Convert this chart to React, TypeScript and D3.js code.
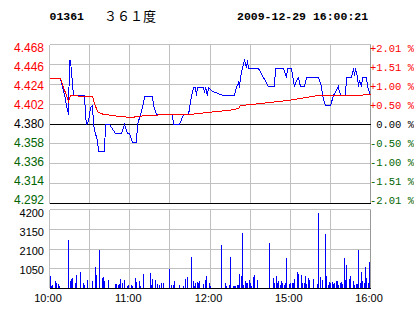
import React from "react";
import * as d3 from "d3";

const W = 414;
const H = 314;

const stockCode = "01361";
const stockName = "３６１度";
const stamp = "2009-12-29 16:00:21";

const priceTicks = [4.468, 4.446, 4.424, 4.402, 4.38, 4.358, 4.336, 4.314, 4.292];
const pctLabels = ["+2.01 %", "+1.51 %", "+1.00 %", "+0.50 %", "0.00 %", "-0.50 %", "-1.00 %", "-1.51 %", "-2.01 %"];
const volTicks = [4200, 3150, 2100, 1050];
const timeLabels = ["10:00", "11:00", "12:00", "15:00", "16:00"];
const timeLabelMinutes = [0, 60, 120, 180, 240];
const gridMinutes = [0, 30, 60, 90, 120, 150, 180, 210, 240];
const prevClose = 4.38;

const priceMinutes = [0, 8, 10, 12, 13, 14, 15, 16, 18, 26, 27, 28, 29, 31, 32, 33, 34, 36, 37, 41, 42, 45, 49, 54, 56, 58, 60, 62, 65, 66, 68, 70, 71, 77, 78, 80, 92, 93, 97, 100, 104, 106, 108, 109, 110, 111, 115, 116, 117, 118, 119, 122, 130, 138, 140, 141, 142, 143, 144, 146, 147, 148, 149, 156, 164, 168, 169, 175, 177, 178, 181, 183, 184, 186, 187, 188, 191, 192, 201, 203, 204, 206, 210, 212, 216, 217, 218, 221, 222, 226, 227, 228, 229, 230, 231, 232, 233, 234, 237, 238, 240];
const priceValues = [4.43, 4.43, 4.421, 4.407, 4.4, 4.391, 4.45, 4.45, 4.412, 4.412, 4.39, 4.38, 4.383, 4.398, 4.401, 4.381, 4.373, 4.362, 4.35, 4.35, 4.38, 4.38, 4.37, 4.37, 4.38, 4.37, 4.37, 4.36, 4.36, 4.38, 4.39, 4.403, 4.41, 4.41, 4.401, 4.391, 4.391, 4.38, 4.38, 4.391, 4.391, 4.41, 4.42, 4.42, 4.412, 4.42, 4.42, 4.415, 4.42, 4.412, 4.42, 4.416, 4.411, 4.411, 4.42, 4.426, 4.42, 4.431, 4.442, 4.45, 4.442, 4.45, 4.441, 4.441, 4.421, 4.421, 4.441, 4.441, 4.431, 4.441, 4.441, 4.421, 4.426, 4.431, 4.426, 4.421, 4.421, 4.431, 4.431, 4.421, 4.411, 4.401, 4.401, 4.411, 4.421, 4.415, 4.411, 4.411, 4.431, 4.431, 4.441, 4.434, 4.441, 4.433, 4.421, 4.428, 4.421, 4.431, 4.431, 4.421, 4.411];

const avgMinutes = [0, 8, 14, 15, 16, 26, 32, 34, 36, 38, 41, 47, 52, 61, 66, 73, 90, 105, 118, 125, 134, 141, 143, 151, 158, 171, 178, 188, 201, 226, 231, 238, 240];
const avgValues = [4.43, 4.43, 4.405, 4.408, 4.411, 4.41, 4.41, 4.403, 4.394, 4.392, 4.39, 4.389, 4.388, 4.387, 4.388, 4.389, 4.39, 4.391, 4.393, 4.394, 4.395, 4.397, 4.401, 4.402, 4.403, 4.405, 4.406, 4.408, 4.411, 4.411, 4.412, 4.413, 4.413];

const volMinutes = [0, 1, 2, 4, 5, 6, 7, 14, 15, 16, 17, 19, 20, 23, 25, 26, 28, 32, 34, 35, 37, 39, 40, 41, 44, 49, 50, 51, 52, 53, 54, 56, 58, 59, 61, 62, 64, 65, 67, 68, 70, 75, 76, 77, 79, 80, 82, 83, 85, 89, 91, 92, 93, 97, 100, 101, 103, 106, 107, 108, 109, 110, 111, 112, 115, 116, 117, 119, 120, 128, 131, 132, 134, 135, 137, 138, 139, 140, 141, 142, 143, 144, 145, 146, 147, 148, 149, 150, 151, 152, 153, 155, 164, 167, 168, 169, 170, 171, 172, 173, 174, 175, 176, 177, 179, 180, 181, 182, 183, 185, 186, 188, 189, 190, 191, 192, 193, 194, 197, 200, 201, 202, 204, 206, 207, 208, 209, 210, 211, 212, 213, 214, 215, 216, 217, 218, 219, 220, 221, 222, 224, 225, 227, 228, 229, 230, 231, 232, 233, 234, 235, 236, 237, 238, 239, 240];
const volValues = [650, 140, 210, 390, 300, 245, 125, 2600, 390, 490, 545, 300, 705, 860, 280, 175, 440, 390, 1125, 705, 2025, 545, 600, 390, 440, 230, 230, 195, 230, 490, 280, 440, 125, 175, 175, 125, 545, 335, 390, 125, 755, 810, 175, 490, 440, 230, 175, 280, 280, 1020, 175, 175, 390, 175, 125, 490, 600, 1700, 390, 125, 280, 335, 280, 390, 230, 440, 650, 280, 125, 2290, 280, 125, 175, 1700, 125, 125, 125, 175, 175, 755, 650, 2975, 175, 390, 280, 280, 440, 280, 125, 600, 705, 440, 2395, 545, 280, 650, 280, 390, 175, 390, 280, 175, 280, 1600, 230, 280, 280, 280, 490, 860, 755, 705, 280, 280, 650, 230, 545, 440, 490, 230, 4030, 600, 440, 2920, 650, 175, 335, 280, 335, 230, 280, 390, 390, 175, 280, 335, 230, 1600, 440, 1230, 490, 650, 390, 175, 230, 230, 2025, 280, 860, 390, 280, 1125, 545, 280, 1390, 175];

const RED = "#ff0000";
const GREEN = "#006400";
const GRID = "#c0c0c0";
const BLUE = "#0000ff";
const SANS = "'Liberation Sans', Arial, sans-serif";
const MONO = "'Liberation Mono', 'DejaVu Sans Mono', monospace";

const L = 49.5, R = 370.5;
const PT = 44.5, PB = 203.5;
const VT = 209.5, VB = 288.5;

const snap = (v: number) => Math.round(v - 0.5) + 0.5;

export default function App() {
  const x = d3.scaleLinear().domain([0, 240]).range([L, R]);
  const yP = d3.scaleLinear().domain([priceTicks[8], priceTicks[0]]).range([PB, PT]);
  const yV = d3.scaleLinear().domain([0, volTicks[0]]).range([VB, VT]);
  const yPL = d3.scaleLinear().domain([priceTicks[0], priceTicks[8]]).range([48, 200]);
  const yVL = d3.scaleLinear().domain([volTicks[0], 0]).range([213, 289]);

  const line = d3.line<[number, number]>().x((d) => snap(x(d[0]))).y((d) => snap(yP(d[1])));
  const pricePts = priceMinutes.map((m, i) => [m, priceValues[i]] as [number, number]);
  const avgPts = avgMinutes.map((m, i) => [m, avgValues[i]] as [number, number]);

  const colorFor = (v: number) => (Math.abs(v - prevClose) < 1e-9 ? "#000" : v > prevClose ? RED : GREEN);

  return (
    <svg width={W} height={H} style={{ position: "absolute", left: 0, top: 0, background: "#fff" }}>
      <rect x={0} y={0} width={W} height={H} fill="#fff" />
      {/* header */}
      <text x={49.5} y={20} fontFamily={MONO} fontWeight="bold" fontSize={11.5} fill="#000">{stockCode}</text>
      <text x={104} y={21} fontFamily="'Noto Sans CJK SC', sans-serif" fontSize={13} fill="#000">{stockName}</text>
      <text x={237} y={20} fontFamily={MONO} fontWeight="bold" fontSize={11.5} fill="#000">{stamp}</text>

      {/* price grid */}
      <g shapeRendering="crispEdges">
        {priceTicks.map((t, i) => (
          <line key={"pg" + i} x1={L} x2={R} y1={snap(yP(t))} y2={snap(yP(t))}
            stroke={i === 4 || i === 8 ? "#000" : GRID} strokeWidth={1} />
        ))}
        {gridMinutes.map((m, i) => (
          <line key={"pv" + i} x1={snap(x(m))} x2={snap(x(m))} y1={PT} y2={PB}
            stroke={i === gridMinutes.length - 1 ? "#999" : GRID} strokeWidth={1} />
        ))}
        {/* volume grid */}
        {[...volTicks, 0].map((t, i) => (
          <line key={"vg" + i} x1={L} x2={R} y1={snap(yV(t))} y2={snap(yV(t))}
            stroke={t === 0 ? "#000" : GRID} strokeWidth={1} />
        ))}
        {gridMinutes.map((m, i) => (
          <line key={"vv" + i} x1={snap(x(m))} x2={snap(x(m))} y1={VT} y2={VB - 1}
            stroke={i === gridMinutes.length - 1 ? "#999" : GRID} strokeWidth={1} />
        ))}
        <line x1={L} x2={R} y1={snap(yP(prevClose))} y2={snap(yP(prevClose))} stroke="#000" />
        <line x1={L} x2={R} y1={PB} y2={PB} stroke="#000" />
        <line x1={L} x2={R} y1={VB} y2={VB} stroke="#000" />
      </g>

      {/* volume bars */}
      <g shapeRendering="crispEdges">
        {volMinutes.map((m, i) => {
          const bx = Math.min(Math.round(x(m)), 369);
          const top = yV(volValues[i]);
          return <rect key={"b" + i} x={bx} y={top} width={1} height={VB - 0.5 - top} fill={BLUE} />;
        })}
      </g>

      {/* price lines */}
      <path d={line(pricePts) || ""} fill="none" stroke={BLUE} strokeWidth={1} shapeRendering="crispEdges" />
      <path d={line(avgPts) || ""} fill="none" stroke={RED} strokeWidth={1} shapeRendering="crispEdges" />

      {/* left price labels */}
      {priceTicks.map((t, i) => (
        <text key={"pl" + i} x={44} y={yPL(t)} dy="0.36em" textAnchor="end" fontFamily={SANS} fontSize={12} fill={colorFor(t)}>
          {t.toFixed(3)}
        </text>
      ))}
      {/* right percent labels */}
      {priceTicks.map((t, i) => (
        <text key={"rl" + i} x={414} y={yPL(t)} dy="0.36em" textAnchor="end" fontFamily={MONO} fontSize={10.5} fill={colorFor(t)}>
          {pctLabels[i]}
        </text>
      ))}
      {/* volume labels */}
      {volTicks.map((t, i) => (
        <text key={"vl" + i} x={44} y={yVL(t)} dy="0.36em" textAnchor="end" fontFamily={SANS} fontSize={11} fill="#000">
          {t}
        </text>
      ))}
      {/* time labels */}
      {timeLabels.map((s, i) => (
        <text key={"tl" + i} x={x(timeLabelMinutes[i]) - 1.5} y={302} textAnchor="middle" fontFamily={SANS} fontSize={11} fill="#000">
          {s}
        </text>
      ))}
    </svg>
  );
}
